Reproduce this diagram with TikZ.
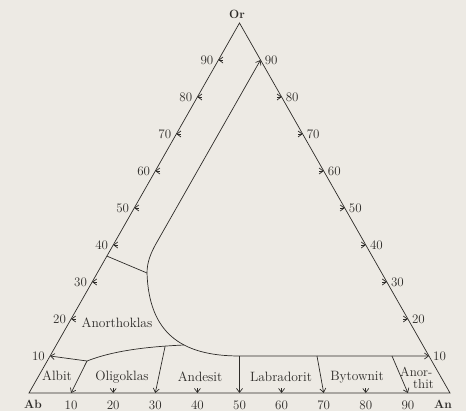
\documentclass[tikz,border=0pt]{standalone}
\usepackage{xcolor}
\usepackage{tikz}
\usetikzlibrary{arrows.meta}
\definecolor{paper}{RGB}{237,234,228}
\definecolor{ink}{RGB}{45,43,40}

\tikzset{
  bnd/.style={draw=ink, line width=0.7pt},
  arr/.style={bnd, -{Straight Barb[length=4pt,width=6pt]}},
  arrs/.style={bnd, {Straight Barb[length=4pt,width=6pt]}-{Straight Barb[length=4pt,width=6pt]}},
  lbl/.style={text=ink, font=\fontsize{13.5}{15}\selectfont, inner sep=0pt},
  num/.style={text=ink, font=\fontsize{13}{15}\selectfont, inner sep=0pt},
  apex/.style={text=ink, font=\fontsize{12}{14}\selectfont\bfseries, inner sep=0pt}
}

\begin{document}
\begin{tikzpicture}[x=1pt, y=-1pt]
    \fill[paper] (0,0) rectangle (466,411);
    \useasboundingbox (0,0) rectangle (466,411);

    \coordinate (ab) at (29,393);
    \coordinate (an) at (450,393);
    \coordinate (or) at (239.5,23);
    \draw[bnd] (ab) -- (an) -- (or) -- cycle;

    \node[apex] (orl) at (237,14) {Or};
    \node[apex] (abl) at (33,404) {Ab};
    \node[apex] (anl) at (443,404) {An};

    \foreach \v in {10,20,...,90} {
        \node[num, anchor=east] (lt\v) at ({29+2.105*\v-5},{393-3.7*\v}) {\v};
        \node[num, anchor=west] (rt\v) at ({450-2.105*\v+4},{393-3.7*\v}) {\v};
        \node[num] (bt\v) at ({29+4.21*\v},405) {\v};
    }
    \foreach \v in {20,30,...,90}
        \draw[arr] ({29+2.105*\v+4.5},{393-3.7*\v}) -- ({29+2.105*\v},{393-3.7*\v});
    \foreach \v in {20,30,...,80}
        \draw[arr] ({450-2.105*\v-4.5},{393-3.7*\v}) -- ({450-2.105*\v},{393-3.7*\v});
    \foreach \v in {20,40,60,80}
        \draw[arr] ({29+4.21*\v},388.5) -- ({29+4.21*\v},393);

    \coordinate (r90) at (260.5,60);
    \coordinate (k1) at (155.3,245);
    \coordinate (k2) at (147,273);
    \coordinate (m) at (239.5,356);
    \coordinate (r10) at (429,356);
    \draw[arrs] (r10) -- (m) .. controls (180,356) and (149,332) .. (k2) coordinate[pos=0.38] (q)
        .. controls (147,262) and (151,253) .. (k1) -- (r90);

    \coordinate (l37) at (106.9,256.1);
    \draw[bnd] (l37) -- (k2);

    \coordinate (l10) at (50,356);
    \coordinate (p) at (87,361);
    \coordinate (b10) at (71.1,393);
    \draw[arr] (p) -- (l10);
    \draw[arr] (p) -- (b10);
    \draw[bnd] (p) .. controls (110,352) and (140,347) .. (q) coordinate[pos=0.85] (s);

    \coordinate (b30) at (155.3,393);
    \coordinate (b50) at (239.5,393);
    \coordinate (t70) at (317,356);
    \coordinate (b70) at (323.7,393);
    \coordinate (t90) at (392,356);
    \coordinate (b90) at (407.9,393);
    \draw[arr] (s) -- (b30);
    \draw[arr] (m) -- (b50);
    \draw[arr] (t70) -- (b70);
    \draw[arr] (t90) -- (b90);

    \node[lbl] (anokl) at (117,323) {Anorthoklas};
    \node[lbl] (albit) at (57,376) {Albit};
    \node[lbl] (oligo) at (122,377) {Oligoklas};
    \node[lbl] (andes) at (200,377) {Andesit};
    \node[lbl] (labra) at (281,377) {Labradorit};
    \node[lbl] (bytow) at (357,377) {Bytownit};
    \node[lbl, align=left, font=\fontsize{13}{11.5}\selectfont] (anort) at (417,378) {Anor-\\\hspace*{13pt}thit};
\end{tikzpicture}
\end{document}
